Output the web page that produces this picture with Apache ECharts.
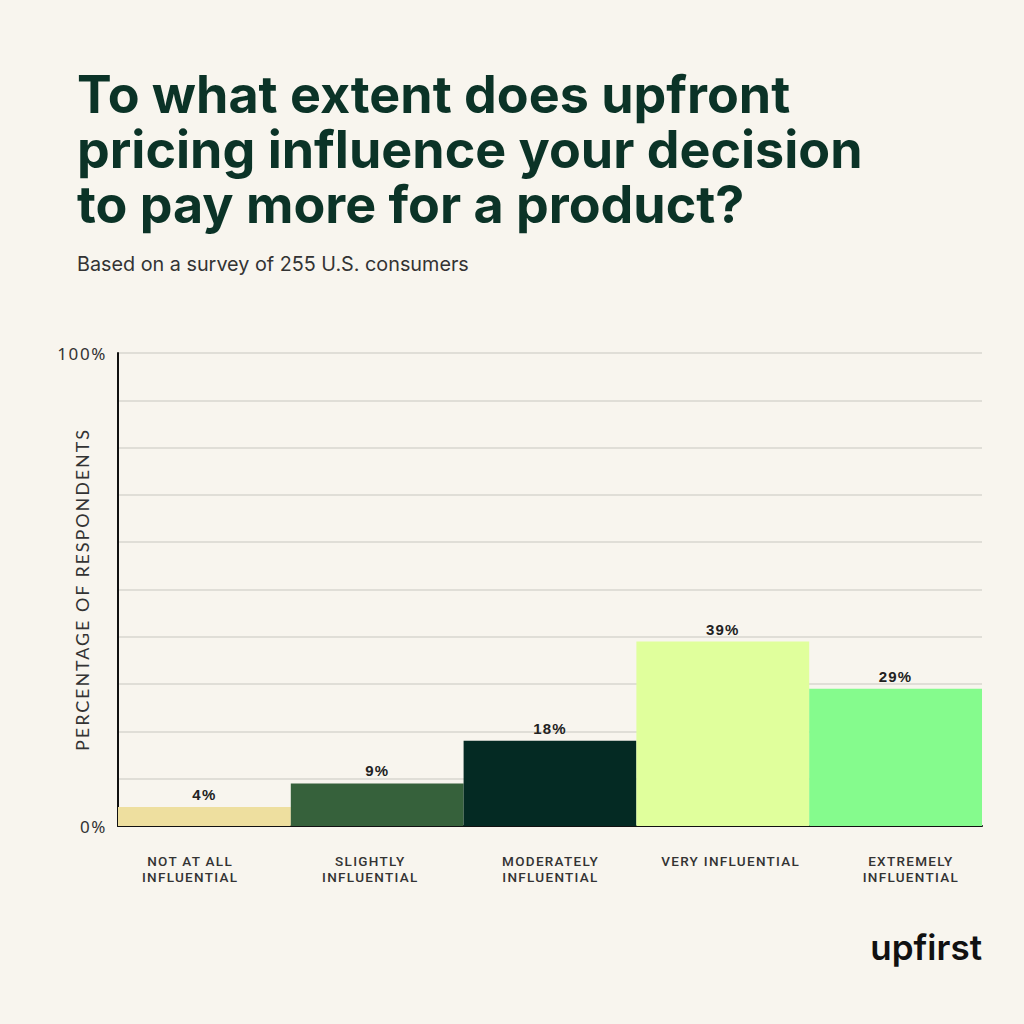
<!DOCTYPE html>
<html>
<head>
<meta charset="utf-8">
<script src="https://cdn.jsdelivr.net/npm/echarts@6/dist/echarts.min.js"></script>
<style>
  html, body { margin: 0; padding: 0; background: #f8f5ee; }
  #chart { width: 1024px; height: 1024px; }
  /* tracking for the small caps-style labels (svg renderer) */
  #chart text[style*="Roboto"] { letter-spacing: 1.3px; }
  #chart text[style*="Lato"] { letter-spacing: 1.9px; }
  #chart text[style*="Noto Sans"] { letter-spacing: 1.6px; }
  #chart text[style*="Liberation Sans"] { letter-spacing: 1.2px; }
</style>
</head>
<body>
<div id="chart"></div>
<script>
// survey answers, left to right
var categories = ['NOT AT ALL\nINFLUENTIAL', 'SLIGHTLY\nINFLUENTIAL', 'MODERATELY\nINFLUENTIAL', 'VERY INFLUENTIAL', 'EXTREMELY\nINFLUENTIAL']
var percents = [4, 9, 18, 39, 29]
var barColors = ['#eedf9f', '#36613b', '#042a23', '#e0ff9c', '#85fb8d']
var yTicks = [0, 100]

var chart = echarts.init(document.getElementById('chart'), null, { renderer: 'svg' })

chart.setOption({
  backgroundColor: '#f8f5ee',
  animation: false,
  title: {
    text: 'To what extent does upfront\npricing influence your decision\nto pay more for a product?',
    subtext: 'Based on a survey of 255 U.S. consumers',
    left: 72,
    top: 62,
    itemGap: 22,
    textStyle: {
      fontFamily: 'Inter',
      fontWeight: 700,
      fontSize: 52,
      lineHeight: 55,
      color: '#0b3327'
    },
    subtextStyle: {
      fontFamily: 'Inter',
      fontSize: 19.8,
      color: '#333333'
    }
  },
  grid: [
    { left: 118, right: 42, top: 353, bottom: 198 },
    // the answer labels sit a little wider apart than the bars
    { left: 100, right: 23, top: 353, bottom: 198 }
  ],
  xAxis: [{
    type: 'category',
    data: categories,
    axisLine: { lineStyle: { color: '#111111', width: 2 } },
    axisTick: { show: false },
    axisLabel: { show: false }
  }, {
    type: 'category',
    gridIndex: 1,
    data: categories,
    axisLine: { show: false },
    axisTick: { show: false },
    axisLabel: {
      margin: 27,
      fontFamily: 'Roboto',
      fontWeight: 500,
      fontSize: 13.5,
      lineHeight: 16,
      color: '#333333'
    }
  }],
  yAxis: [{
    type: 'value',
    min: 0,
    max: 100,
    interval: 10,
    name: 'PERCENTAGE OF RESPONDENTS',
    nameLocation: 'middle',
    nameMoveOverlap: false,
    nameGap: 27,
    nameTextStyle: {
      fontFamily: 'Lato',
      fontSize: 18,
      color: '#333333'
    },
    axisLine: { show: true, lineStyle: { color: '#111111', width: 2 } },
    axisTick: { show: false },
    splitLine: { lineStyle: { color: '#d9d6cf', width: 1.5 } },
    axisLabel: {
      margin: 11,
      fontFamily: 'Noto Sans',
      fontSize: 17,
      color: '#333333',
      formatter: function (v) {
        return yTicks.indexOf(v) >= 0 ? v + '%' : ''
      }
    }
  }, {
    type: 'value',
    gridIndex: 1,
    show: false
  }],
  series: [{
    type: 'bar',
    barCategoryGap: '0%',
    data: percents.map(function (v, i) {
      return { value: v, itemStyle: { color: barColors[i] } }
    }),
    label: {
      show: true,
      position: 'top',
      distance: 5,
      fontFamily: 'Liberation Sans',
      fontWeight: 'bold',
      fontSize: 15,
      color: '#222222',
      formatter: '{c}%'
    }
  }],
  graphic: [{
    type: 'text',
    right: 42,
    top: 929,
    style: {
      text: 'upfirst',
      fontFamily: 'Inter',
      fontWeight: 600,
      fontSize: 35,
      fill: '#111111'
    }
  }]
})
</script>
</body>
</html>
